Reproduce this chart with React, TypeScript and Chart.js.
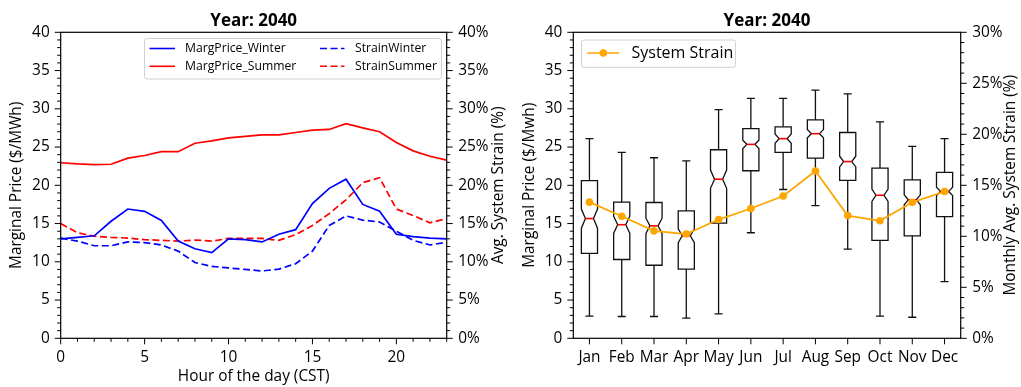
import { useEffect, useRef } from "react";
import { Chart, registerables } from "chart.js";

Chart.register(...registerables);

const FONT = "'Open Sans', 'DejaVu Sans', sans-serif";

// Hourly profile (left panel)
const hours = [0, 1, 2, 3, 4, 5, 6, 7, 8, 9, 10, 11, 12, 13, 14, 15, 16, 17, 18, 19, 20, 21, 22, 23];
const margPriceWinter = [13.0, 13.2, 13.4, 15.3, 16.9, 16.6, 15.4, 12.7, 11.7, 11.2, 13.0, 12.9, 12.6, 13.6, 14.2, 17.6, 19.6, 20.8, 17.5, 16.6, 13.6, 13.3, 13.1, 13.0];
const margPriceSummer = [22.95, 22.8, 22.7, 22.75, 23.55, 23.9, 24.4, 24.4, 25.5, 25.8, 26.2, 26.4, 26.6, 26.6, 26.9, 27.2, 27.3, 28.05, 27.5, 27.0, 25.6, 24.5, 23.8, 23.3];
const strainWinter = [13.1, 12.7, 12.1, 12.1, 12.6, 12.5, 12.2, 11.4, 9.9, 9.4, 9.2, 9.0, 8.8, 9.05, 9.75, 11.4, 14.75, 16.0, 15.45, 15.2, 14.0, 12.8, 12.2, 12.55];
const strainSummer = [15.0, 13.8, 13.35, 13.2, 13.1, 12.9, 12.8, 12.7, 12.85, 12.7, 13.05, 13.05, 13.05, 12.8, 13.55, 14.75, 16.3, 18.1, 20.35, 21.0, 16.9, 16.05, 15.1, 15.65];

// Monthly price distribution (right panel)
const months = ["Jan", "Feb", "Mar", "Apr", "May", "Jun", "Jul", "Aug", "Sep", "Oct", "Nov", "Dec"];
const whiskerHigh = [26.1, 24.3, 23.6, 23.2, 29.9, 31.35, 31.35, 32.45, 31.95, 28.3, 25.1, 26.1];
const q3 = [20.6, 17.8, 17.75, 16.65, 24.65, 27.4, 27.65, 28.55, 26.9, 22.25, 20.7, 21.7];
const median = [15.65, 14.85, 14.7, 13.4, 20.8, 25.35, 26.1, 26.75, 23.1, 18.7, 18.1, 19.2];
const q1 = [11.1, 10.3, 9.55, 9.05, 15.05, 21.9, 24.3, 23.55, 20.65, 12.8, 13.4, 15.9];
const whiskerLow = [2.9, 2.85, 2.85, 2.65, 3.2, 13.8, 19.45, 17.35, 11.65, 2.9, 2.75, 7.4];
const notchHalf = [1.25, 1.1, 1.0, 0.9, 1.2, 0.55, 0.6, 0.55, 0.7, 0.8, 0.65, 0.55];
const systemStrain = [13.35, 11.97, 10.53, 10.22, 11.64, 12.72, 13.95, 16.4, 12.03, 11.52, 13.33, 14.39];

const fiveLabel = (v: any) => (Number(v) % 5 === 0 ? String(v) : "");
const fivePct = (v: any) => (Number(v) % 5 === 0 ? `${v}%` : "");

const LABEL_SIZE = 15.4;

// Tick marks (major/minor) and the full axes frame
const frameTicks = {
  id: "frameTicks",
  afterDraw(chart: any) {
    const ctx = chart.ctx;
    const a = chart.chartArea;
    ctx.save();
    ctx.strokeStyle = "#000";
    ctx.lineWidth = 1;
    for (const s of Object.values(chart.scales) as any[]) {
      s.ticks.forEach((t: any, i: number) => {
        const p = s.getPixelForTick(i);
        const len = t.label !== "" ? 6 : 3.5;
        ctx.beginPath();
        if (s.position === "bottom") {
          ctx.moveTo(p, a.bottom);
          ctx.lineTo(p, a.bottom + len);
        } else if (s.position === "left") {
          ctx.moveTo(a.left, p);
          ctx.lineTo(a.left - len, p);
        } else {
          ctx.moveTo(a.right, p);
          ctx.lineTo(a.right + len, p);
        }
        ctx.stroke();
      });
    }
    ctx.lineWidth = 1.2;
    ctx.strokeRect(a.left, a.top, a.right - a.left, a.bottom - a.top);
    ctx.restore();
  },
};

// Right-hand axis title, reading bottom to top
const rightTitle = {
  id: "rightTitle",
  afterDraw(chart: any, _args: any, opts: any) {
    const ctx = chart.ctx;
    const a = chart.chartArea;
    ctx.save();
    ctx.translate(opts.x, (a.top + a.bottom) / 2);
    ctx.rotate(-Math.PI / 2);
    ctx.font = `${LABEL_SIZE}px ${FONT}`;
    ctx.fillStyle = "#000";
    ctx.textAlign = "center";
    ctx.textBaseline = "middle";
    ctx.fillText(opts.text, 0, 0);
    ctx.restore();
  },
};

function roundRect(ctx: any, x: number, y: number, w: number, h: number, r: number) {
  ctx.beginPath();
  ctx.moveTo(x + r, y);
  ctx.lineTo(x + w - r, y);
  ctx.quadraticCurveTo(x + w, y, x + w, y + r);
  ctx.lineTo(x + w, y + h - r);
  ctx.quadraticCurveTo(x + w, y + h, x + w - r, y + h);
  ctx.lineTo(x + r, y + h);
  ctx.quadraticCurveTo(x, y + h, x, y + h - r);
  ctx.lineTo(x, y + r);
  ctx.quadraticCurveTo(x, y, x + r, y);
  ctx.closePath();
}

// Two-column legend for the hourly panel
const hourLegend = {
  id: "hourLegend",
  afterDraw(chart: any) {
    const ctx = chart.ctx;
    const ds = chart.data.datasets;
    ctx.save();
    roundRect(ctx, 144.5, 38.5, 297, 40.5, 2.5);
    ctx.fillStyle = "rgba(255,255,255,0.8)";
    ctx.fill();
    ctx.strokeStyle = "#d0d0d0";
    ctx.lineWidth = 1;
    ctx.stroke();
    const cols = [
      { x0: 149.5, x1: 175, tx: 185 },
      { x0: 320, x1: 344.5, tx: 355 },
    ];
    const rows = [48.5, 66.3];
    ds.forEach((d: any, i: number) => {
      const c = cols[Math.floor(i / 2)];
      const y = rows[i % 2];
      ctx.strokeStyle = d.borderColor;
      ctx.lineWidth = 1.6;
      ctx.setLineDash(d.borderDash || []);
      ctx.beginPath();
      ctx.moveTo(c.x0, y);
      ctx.lineTo(c.x1, y);
      ctx.stroke();
      ctx.setLineDash([]);
      ctx.fillStyle = "#000";
      ctx.font = `12.2px ${FONT}`;
      ctx.textAlign = "left";
      ctx.textBaseline = "middle";
      ctx.fillText(d.label, c.tx, y);
    });
    ctx.restore();
  },
};

// Legend for the monthly panel
const monthLegend = {
  id: "monthLegend",
  afterDraw(chart: any) {
    const ctx = chart.ctx;
    const d = chart.data.datasets[0];
    ctx.save();
    roundRect(ctx, 71.5, 40, 154, 27.3, 2.5);
    ctx.fillStyle = "rgba(255,255,255,0.8)";
    ctx.fill();
    ctx.strokeStyle = "#d0d0d0";
    ctx.lineWidth = 1;
    ctx.stroke();
    const y = 53;
    ctx.strokeStyle = d.borderColor;
    ctx.lineWidth = 1.6;
    ctx.beginPath();
    ctx.moveTo(77.3, y);
    ctx.lineTo(109.3, y);
    ctx.stroke();
    ctx.fillStyle = d.backgroundColor;
    ctx.beginPath();
    ctx.arc(93.3, y, 3.8, 0, Math.PI * 2);
    ctx.fill();
    ctx.fillStyle = "#000";
    ctx.font = `16px ${FONT}`;
    ctx.textAlign = "left";
    ctx.textBaseline = "middle";
    ctx.fillText(d.label, 121.5, y);
    ctx.restore();
  },
};

// Notched box-and-whisker marks from the quartile arrays
const boxPlot = {
  id: "boxPlot",
  beforeDatasetsDraw(chart: any) {
    const ctx = chart.ctx;
    const xs = chart.scales.x;
    const ys = chart.scales.y;
    const step = xs.getPixelForValue(1) - xs.getPixelForValue(0);
    const hw = step * 0.25;
    const cw = step * 0.125;
    const Y = (v: number) => ys.getPixelForValue(v);
    ctx.save();
    months.forEach((_m, i) => {
      const cx = xs.getPixelForValue(i);
      ctx.strokeStyle = "#111";
      ctx.lineWidth = 1.3;
      ctx.beginPath();
      ctx.moveTo(cx, Y(q1[i]));
      ctx.lineTo(cx, Y(whiskerLow[i]));
      ctx.moveTo(cx, Y(q3[i]));
      ctx.lineTo(cx, Y(whiskerHigh[i]));
      ctx.moveTo(cx - cw, Y(whiskerLow[i]));
      ctx.lineTo(cx + cw, Y(whiskerLow[i]));
      ctx.moveTo(cx - cw, Y(whiskerHigh[i]));
      ctx.lineTo(cx + cw, Y(whiskerHigh[i]));
      ctx.stroke();
      const nlo = median[i] - notchHalf[i];
      const nhi = median[i] + notchHalf[i];
      const L = cx - hw, R = cx + hw, CL = cx - cw, CR = cx + cw;
      ctx.beginPath();
      ctx.moveTo(L, Y(q1[i]));
      ctx.lineTo(R, Y(q1[i]));
      ctx.lineTo(R, Y(nlo));
      ctx.lineTo(CR, Y(median[i]));
      ctx.lineTo(R, Y(nhi));
      ctx.lineTo(R, Y(q3[i]));
      ctx.lineTo(L, Y(q3[i]));
      ctx.lineTo(L, Y(nhi));
      ctx.lineTo(CL, Y(median[i]));
      ctx.lineTo(L, Y(nlo));
      ctx.closePath();
      ctx.stroke();
      ctx.strokeStyle = "#ff0000";
      ctx.lineWidth = 1.6;
      ctx.beginPath();
      ctx.moveTo(CL, Y(median[i]));
      ctx.lineTo(CR, Y(median[i]));
      ctx.stroke();
    });
    ctx.restore();
  },
};

const tickFont = { family: FONT, size: LABEL_SIZE };
const titleFont = { family: FONT, size: 17, weight: "bold" };
const hiddenGrid = {
  display: true,
  drawOnChartArea: false,
  drawTicks: true,
  tickLength: 6,
  tickColor: "rgba(0,0,0,0)",
};

function HourlyChart() {
  const ref = useRef<HTMLCanvasElement>(null);
  useEffect(() => {
    const chart = new Chart(ref.current as HTMLCanvasElement, {
      type: "line",
      data: {
        datasets: [
          { label: "MargPrice_Winter", data: hours.map((h, i) => ({ x: h, y: margPriceWinter[i] })), borderColor: "#0000ff", borderWidth: 1.7, yAxisID: "y" },
          { label: "MargPrice_Summer", data: hours.map((h, i) => ({ x: h, y: margPriceSummer[i] })), borderColor: "#ff0000", borderWidth: 1.7, yAxisID: "y" },
          { label: "StrainWinter", data: hours.map((h, i) => ({ x: h, y: strainWinter[i] })), borderColor: "#0000ff", borderWidth: 1.7, borderDash: [7, 3.5], yAxisID: "y1" },
          { label: "StrainSummer", data: hours.map((h, i) => ({ x: h, y: strainSummer[i] })), borderColor: "#ff0000", borderWidth: 1.7, borderDash: [7, 3.5], yAxisID: "y1" },
        ] as any,
      },
      options: {
        animation: false,
        responsive: true,
        maintainAspectRatio: false,
        events: [],
        elements: { point: { radius: 0 }, line: { tension: 0 } },
        layout: { padding: 0 },
        plugins: {
          legend: { display: false },
          tooltip: { enabled: false },
          title: {
            display: true,
            text: "Year: 2040",
            fullSize: false,
            color: "#000",
            font: titleFont,
            padding: { top: 10.8, bottom: 1.1 },
          },
          rightTitle: { text: "Avg. System Strain (%)", x: 498.3 },
        } as any,
        scales: {
          x: {
            type: "linear",
            min: 0,
            max: 23,
            grid: hiddenGrid,
            border: { display: false },
            ticks: { stepSize: 1, autoSkip: false, maxRotation: 0, padding: 4.5, color: "#000", font: tickFont, callback: fiveLabel },
            title: { display: true, text: "Hour of the day (CST)", color: "#000", font: tickFont, padding: { top: 0, bottom: 1.3 } },
            afterFit: (s: any) => { s.height = 48.7; },
          },
          y: {
            position: "left",
            min: 0,
            max: 40,
            grid: hiddenGrid,
            border: { display: false },
            ticks: { stepSize: 1, autoSkip: false, padding: 5, color: "#000", font: tickFont, callback: fiveLabel },
            title: { display: true, text: "Marginal Price ($/MWh)", color: "#000", font: tickFont, padding: { top: 7.5, bottom: 0 } },
            afterFit: (s: any) => { s.width = 60.7; },
          },
          y1: {
            position: "right",
            min: 0,
            max: 40,
            grid: hiddenGrid,
            border: { display: false },
            ticks: { stepSize: 1, autoSkip: false, padding: 5.5, color: "#000", font: tickFont, callback: fivePct },
            afterFit: (s: any) => { s.width = 63.3; },
          },
        } as any,
      },
      plugins: [frameTicks, rightTitle, hourLegend],
    });
    return () => chart.destroy();
  }, []);
  return <canvas ref={ref} />;
}

function MonthlyChart() {
  const ref = useRef<HTMLCanvasElement>(null);
  useEffect(() => {
    const chart = new Chart(ref.current as HTMLCanvasElement, {
      type: "line",
      data: {
        labels: months,
        datasets: [
          {
            label: "System Strain",
            data: systemStrain,
            yAxisID: "y1",
            borderColor: "#ffa500",
            backgroundColor: "#ffa500",
            borderWidth: 1.7,
            pointRadius: 3.8,
            pointBorderWidth: 0,
            tension: 0,
          },
        ],
      },
      options: {
        animation: false,
        responsive: true,
        maintainAspectRatio: false,
        events: [],
        layout: { padding: 0 },
        plugins: {
          legend: { display: false },
          tooltip: { enabled: false },
          title: {
            display: true,
            text: "Year: 2040",
            fullSize: false,
            color: "#000",
            font: titleFont,
            padding: { top: 10.8, bottom: 1.1 },
          },
          rightTitle: { text: "Monthly Avg. System Strain (%)", x: 501 },
        } as any,
        scales: {
          x: {
            type: "category",
            offset: true,
            grid: { ...hiddenGrid, offset: false },
            border: { display: false },
            ticks: { autoSkip: false, maxRotation: 0, padding: 4.5, color: "#000", font: tickFont },
            afterFit: (s: any) => { s.height = 48.7; },
          },
          y: {
            position: "left",
            min: 0,
            max: 40,
            grid: hiddenGrid,
            border: { display: false },
            ticks: { stepSize: 1, autoSkip: false, padding: 5, color: "#000", font: tickFont, callback: fiveLabel },
            title: { display: true, text: "Marginal Price ($/Mwh)", color: "#000", font: tickFont, padding: { top: 10.8, bottom: 0 } },
            afterFit: (s: any) => { s.width = 63.3; },
          },
          y1: {
            position: "right",
            min: 0,
            max: 30,
            grid: hiddenGrid,
            border: { display: false },
            ticks: { stepSize: 1, autoSkip: false, padding: 5.5, color: "#000", font: tickFont, callback: fivePct },
            afterFit: (s: any) => { s.width = 60.3; },
          },
        } as any,
      },
      plugins: [boxPlot, frameTicks, rightTitle, monthLegend],
    });
    return () => chart.destroy();
  }, []);
  return <canvas ref={ref} />;
}

export default function App() {
  return (
    <div style={{ position: "fixed", left: 0, top: 0, width: 1021, height: 387, background: "#fff" }}>
      <div style={{ position: "absolute", left: 0, top: 0, width: 510, height: 387 }}>
        <HourlyChart />
      </div>
      <div style={{ position: "absolute", left: 510, top: 0, width: 511, height: 387 }}>
        <MonthlyChart />
      </div>
    </div>
  );
}
